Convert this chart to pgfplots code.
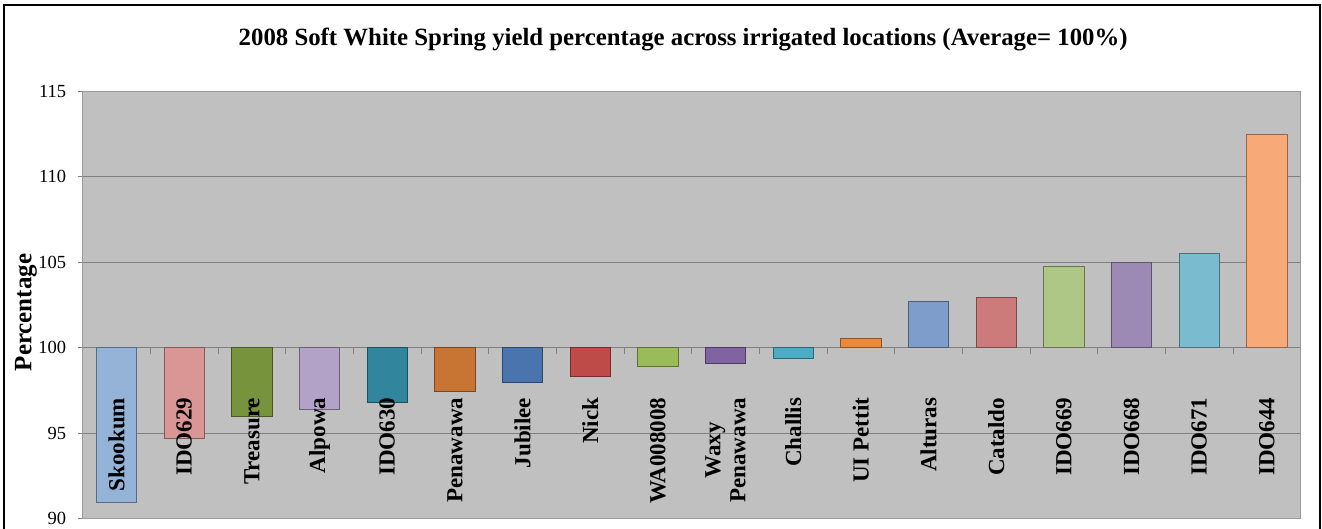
\documentclass[border=0pt]{standalone}
\usepackage{pgfplots}
\pgfplotsset{compat=1.18}
\usepackage{fontspec}
\setmainfont{Liberation Serif}
\definecolor{plotbg}{HTML}{C0C0C0}
\definecolor{gridc}{HTML}{808080}
\definecolor{axc}{HTML}{9A9A9A}
\definecolor{c1}{HTML}{95B3D7}
\definecolor{c2}{HTML}{D99694}
\definecolor{c3}{HTML}{77933C}
\definecolor{c4}{HTML}{B3A2C7}
\definecolor{c5}{HTML}{31859C}
\definecolor{c6}{HTML}{C87533}
\definecolor{c7}{HTML}{4A74AE}
\definecolor{c8}{HTML}{BE4B48}
\definecolor{c9}{HTML}{9BBB59}
\definecolor{c10}{HTML}{8064A2}
\definecolor{c11}{HTML}{4BACC6}
\definecolor{c12}{HTML}{EC8A3C}
\definecolor{c13}{HTML}{7F9DCB}
\definecolor{c14}{HTML}{CC7B7A}
\definecolor{c15}{HTML}{AFC786}
\definecolor{c16}{HTML}{9C8AB5}
\definecolor{c17}{HTML}{7BBBD0}
\definecolor{c18}{HTML}{F8A978}
\begin{document}
\begin{tikzpicture}
\useasboundingbox (-82.7pt,-10.3pt) rectangle (1239.3pt,518.7pt);
\draw[line width=2pt, black] (-78.7pt,-12pt) -- (-78.7pt,513.7pt) -- (1237.3pt,513.7pt) -- (1237.3pt,-12pt);
\begin{axis}[
  at={(0pt,0pt)}, anchor=south west,
  scale only axis, width=1218pt, height=427.5pt,
  xmin=-0.5, xmax=17.5, ymin=-10, ymax=15,
  y filter/.expression={y-100},
  axis background/.style={fill=plotbg},
  axis line style={axc, line width=1pt},
  xtick=\empty,
  ytick={-10,-5,0,5,10,15},
  yticklabels={90,95,100,105,110,115},
  ytick pos=left, tick align=outside, major tick length=5pt,
  tick style={gridc, line width=1pt},
  ymajorgrids, grid style={gridc, line width=1.3pt},
  /pgf/number format/assume math mode=true,
  yticklabel style={font=\fontsize{18.5}{18.5}\selectfont, text=black, xshift=-8pt},
  ylabel={Percentage},
  ylabel style={at={(axis description cs:-0.0466,0.4824)}, anchor=center, font=\fontsize{25}{25}\selectfont\bfseries},
  title={2008 Soft White Spring yield percentage across irrigated locations (Average= 100\%)},
  title style={at={(axis description cs:0.493,1)}, anchor=base, yshift=40pt, font=\fontsize{24.8}{24.8}\selectfont\bfseries},
  clip=false,
]
\addplot[ybar, bar width=40.6pt, fill=c1, draw=c1!60!black, line width=0.8pt] coordinates {(0,90.98)};
\addplot[ybar, bar width=40.6pt, fill=c2, draw=c2!60!black, line width=0.8pt] coordinates {(1,94.69)};
\addplot[ybar, bar width=40.6pt, fill=c3, draw=c3!60!black, line width=0.8pt] coordinates {(2,95.98)};
\addplot[ybar, bar width=40.6pt, fill=c4, draw=c4!60!black, line width=0.8pt] coordinates {(3,96.39)};
\addplot[ybar, bar width=40.6pt, fill=c5, draw=c5!60!black, line width=0.8pt] coordinates {(4,96.80)};
\addplot[ybar, bar width=40.6pt, fill=c6, draw=c6!60!black, line width=0.8pt] coordinates {(5,97.44)};
\addplot[ybar, bar width=40.6pt, fill=c7, draw=c7!60!black, line width=0.8pt] coordinates {(6,97.95)};
\addplot[ybar, bar width=40.6pt, fill=c8, draw=c8!60!black, line width=0.8pt] coordinates {(7,98.30)};
\addplot[ybar, bar width=40.6pt, fill=c9, draw=c9!60!black, line width=0.8pt] coordinates {(8,98.89)};
\addplot[ybar, bar width=40.6pt, fill=c10, draw=c10!60!black, line width=0.8pt] coordinates {(9,99.08)};
\addplot[ybar, bar width=40.6pt, fill=c11, draw=c11!60!black, line width=0.8pt] coordinates {(10,99.39)};
\addplot[ybar, bar width=40.6pt, fill=c12, draw=c12!60!black, line width=0.8pt] coordinates {(11,100.55)};
\addplot[ybar, bar width=40.6pt, fill=c13, draw=c13!60!black, line width=0.8pt] coordinates {(12,102.68)};
\addplot[ybar, bar width=40.6pt, fill=c14, draw=c14!60!black, line width=0.8pt] coordinates {(13,102.95)};
\addplot[ybar, bar width=40.6pt, fill=c15, draw=c15!60!black, line width=0.8pt] coordinates {(14,104.77)};
\addplot[ybar, bar width=40.6pt, fill=c16, draw=c16!60!black, line width=0.8pt] coordinates {(15,104.96)};
\addplot[ybar, bar width=40.6pt, fill=c17, draw=c17!60!black, line width=0.8pt] coordinates {(16,105.50)};
\addplot[ybar, bar width=40.6pt, fill=c18, draw=c18!60!black, line width=0.8pt] coordinates {(17,112.46)};
\pgfplotsinvokeforeach{0.5,1.5,2.5,3.5,4.5,5.5,6.5,7.5,8.5,9.5,10.5,11.5,12.5,13.5,14.5,15.5,16.5}{
  \draw[gridc, line width=1pt] (axis cs:#1,0) -- ++(0pt,-6pt);
}
\tikzset{cat/.style={rotate=90, anchor=east, inner sep=0pt, align=center, font=\fontsize{23}{25}\selectfont\bfseries}}
\node[cat] at (axis cs:0,-2.92) {Skookum};
\node[cat] at (axis cs:1,-2.92) {IDO629};
\node[cat] at (axis cs:2,-2.92) {Treasure};
\node[cat] at (axis cs:3,-2.92) {Alpowa};
\node[cat] at (axis cs:4,-2.92) {IDO630};
\node[cat] at (axis cs:5,-2.92) {Penawawa};
\node[cat] at (axis cs:6,-2.92) {Jubilee};
\node[cat] at (axis cs:7,-2.92) {Nick};
\node[cat] at (axis cs:8,-2.92) {WA008008};
\node[cat] at (axis cs:9,-2.92) {Waxy\\Penawawa};
\node[cat] at (axis cs:10,-2.92) {Challis};
\node[cat] at (axis cs:11,-2.92) {UI Pettit};
\node[cat] at (axis cs:12,-2.92) {Alturas};
\node[cat] at (axis cs:13,-2.92) {Cataldo};
\node[cat] at (axis cs:14,-2.92) {IDO669};
\node[cat] at (axis cs:15,-2.92) {IDO668};
\node[cat] at (axis cs:16,-2.92) {IDO671};
\node[cat] at (axis cs:17,-2.92) {IDO644};
\end{axis}
\end{tikzpicture}
\end{document}
